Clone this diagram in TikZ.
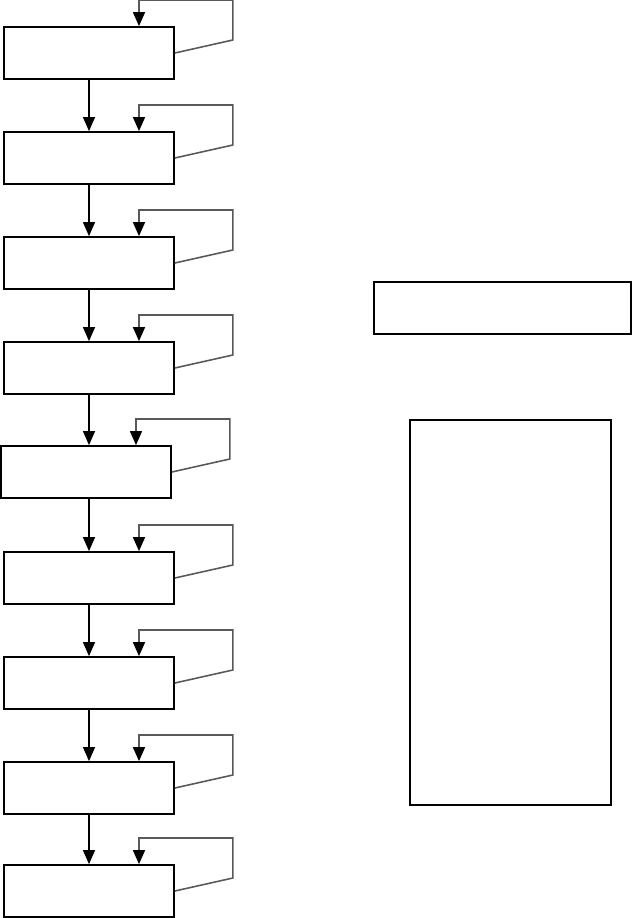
\documentclass[tikz,border=0pt]{standalone}
\usepackage{tikz}
\usetikzlibrary{arrows.meta,positioning}

\begin{document}
\begin{tikzpicture}[
  x=0.02cm, y=-0.02cm,
  >={Triangle[length=0.28cm, width=0.24cm]},
  stage/.style={draw, line width=1pt, minimum width=3.4cm, minimum height=1.04cm, inner sep=0pt},
  panel/.style={draw, line width=0.9pt, inner sep=0pt},
  flow/.style={->, line width=0.7pt},
  selfloop/.style={-{Triangle[length=0.28cm, width=0.24cm, color=black]}, draw=black!65, line width=0.9pt}
]
\path[use as bounding box] (0,0) rectangle (632,918);

% stages on the left
\node[stage] (s1) at (89,53) {};
\node[stage] (s2) at (89,158) {};
\node[stage] (s3) at (89,263) {};
\node[stage] (s4) at (89,368) {};
\node[stage] (s5) at (86,472) {};
\node[stage] (s6) at (89,578) {};
\node[stage] (s7) at (89,683) {};
\node[stage] (s8) at (89,788) {};
\node[stage] (s9) at (89,891) {};

% right-hand panels
\node[panel, minimum width=5.13cm, minimum height=1.04cm] (top) at (502.5,308) {};
\node[panel, minimum width=4.02cm, minimum height=7.7cm] (side) at (510.5,612.5) {};

% forward arrows
\draw[flow] (s1.south) -- (s2.north);
\draw[flow] (s2.south) -- (s3.north);
\draw[flow] (s3.south) -- (s4.north);
\draw[flow] (s4.south) -- (s5.north -| s4.south);
\draw[flow] (s5.south -| s6.north) -- (s6.north);
\draw[flow] (s6.south) -- (s7.north);
\draw[flow] (s7.south) -- (s8.north);
\draw[flow] (s8.south) -- (s9.north);

% feedback loops
\draw[selfloop] (s1.east) -- ++(58,-13) -- ++(0,-40) -| ([xshift=1cm]s1.north);
\draw[selfloop] (s2.east) -- ++(58,-13) -- ++(0,-40) -| ([xshift=1cm]s2.north);
\draw[selfloop] (s3.east) -- ++(58,-13) -- ++(0,-40) -| ([xshift=1cm]s3.north);
\draw[selfloop] (s4.east) -- ++(58,-13) -- ++(0,-40) -| ([xshift=1cm]s4.north);
\draw[selfloop] (s5.east) -- ++(58,-13) -- ++(0,-40) -| ([xshift=1cm]s5.north);
\draw[selfloop] (s6.east) -- ++(58,-13) -- ++(0,-40) -| ([xshift=1cm]s6.north);
\draw[selfloop] (s7.east) -- ++(58,-13) -- ++(0,-40) -| ([xshift=1cm]s7.north);
\draw[selfloop] (s8.east) -- ++(58,-13) -- ++(0,-40) -| ([xshift=1cm]s8.north);
\draw[selfloop] (s9.east) -- ++(58,-13) -- ++(0,-40) -| ([xshift=1cm]s9.north);
\end{tikzpicture}
\end{document}
